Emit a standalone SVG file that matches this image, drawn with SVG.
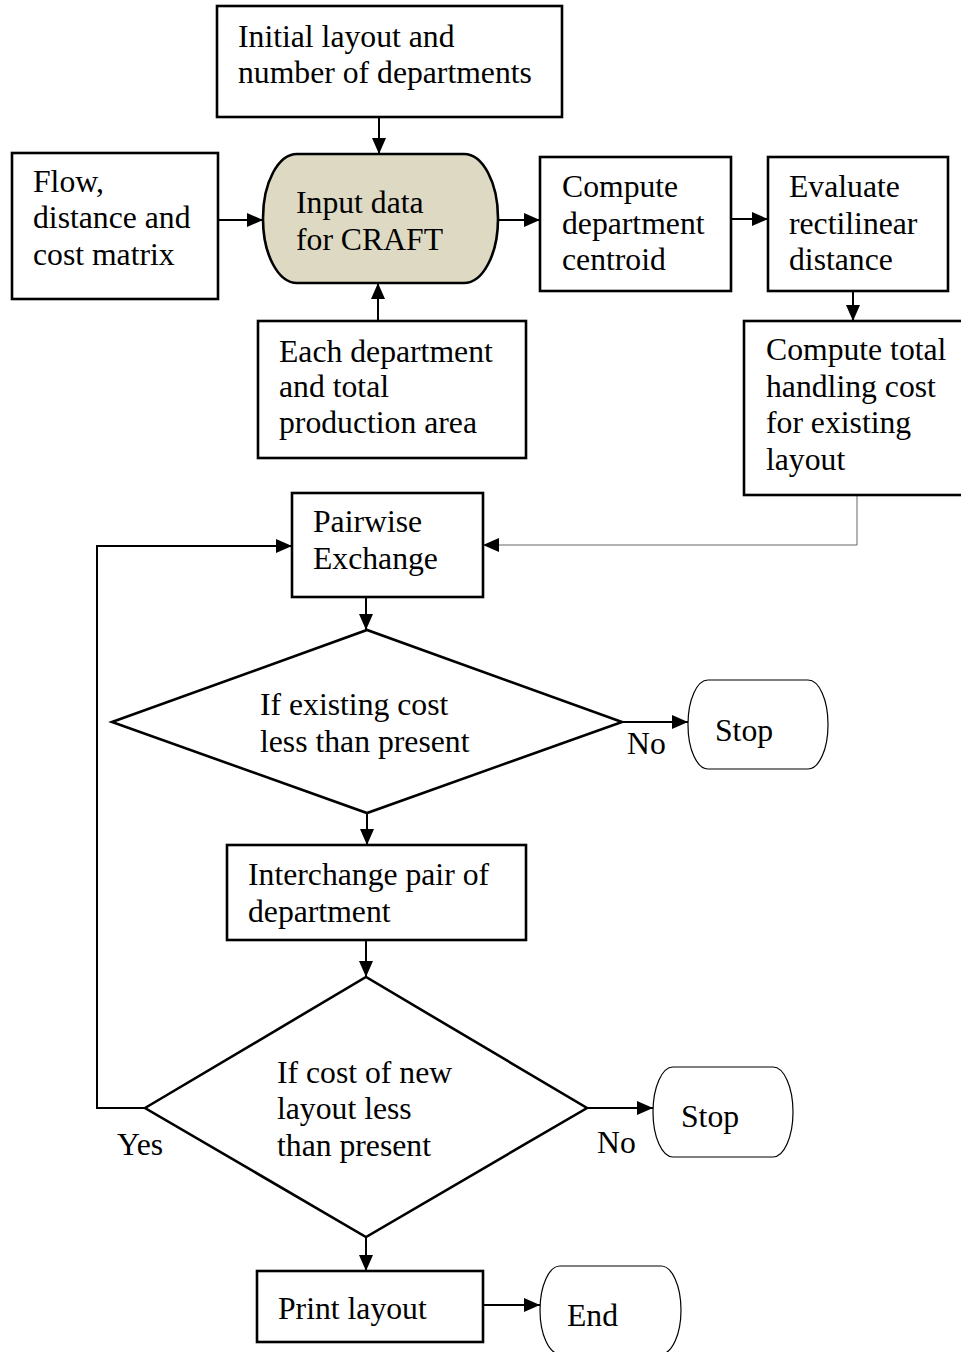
<svg xmlns="http://www.w3.org/2000/svg" width="961" height="1352" viewBox="0 0 961 1352">
  <defs>
    <style>
      .box { fill: #ffffff; stroke: #000000; stroke-width: 2.6; }
      .craft { fill: #ddd9c3; stroke: #000000; stroke-width: 2.6; }
      .term { fill: #ffffff; stroke: #000000; stroke-width: 1.2; }
      .lbl { font-family: "Liberation Serif", "Times New Roman", serif; font-size: 31.7px; fill: #000000; }
      .conn { fill: none; stroke: #000000; stroke-width: 2; }
      .thin { fill: none; stroke: #666666; stroke-width: 1; }
    </style>
    <marker id="arrow" viewBox="0 0 16 14" refX="16" refY="7" markerWidth="16" markerHeight="14" markerUnits="userSpaceOnUse" orient="auto">
      <path d="M0,0 L16,7 L0,14 z" fill="#000000"/>
    </marker>
  </defs>

  <!-- connectors -->
  <g id="connectors">
    <line class="conn" x1="379" y1="117" x2="379" y2="154" marker-end="url(#arrow)"/>
    <line class="conn" x1="218" y1="220" x2="263" y2="220" marker-end="url(#arrow)"/>
    <line class="conn" x1="378" y1="320" x2="378" y2="283" marker-end="url(#arrow)"/>
    <line class="conn" x1="498" y1="220" x2="540" y2="220" marker-end="url(#arrow)"/>
    <line class="conn" x1="731" y1="219" x2="768" y2="219" marker-end="url(#arrow)"/>
    <line class="conn" x1="853" y1="291" x2="853" y2="321" marker-end="url(#arrow)"/>
    <polyline class="thin" points="857,495 857,545 483,545" marker-end="url(#arrow)"/>
    <line class="conn" x1="366" y1="597" x2="366" y2="630" marker-end="url(#arrow)"/>
    <line class="conn" x1="622" y1="722" x2="688" y2="722" marker-end="url(#arrow)"/>
    <line class="conn" x1="367" y1="813" x2="367" y2="845" marker-end="url(#arrow)"/>
    <line class="conn" x1="366" y1="940" x2="366" y2="977" marker-end="url(#arrow)"/>
    <polyline class="conn" points="145,1108 97,1108 97,546 292,546" marker-end="url(#arrow)"/>
    <line class="conn" x1="587" y1="1108" x2="653" y2="1108" marker-end="url(#arrow)"/>
    <line class="conn" x1="366" y1="1237" x2="366" y2="1271" marker-end="url(#arrow)"/>
    <line class="conn" x1="483" y1="1305" x2="540" y2="1305" marker-end="url(#arrow)"/>
  </g>

  <!-- nodes -->
  <g id="n-initial">
    <rect class="box" x="217" y="6" width="345" height="111"/>
    <text class="lbl" x="238" y="47">Initial layout and</text>
    <text class="lbl" x="238" y="83">number of departments</text>
  </g>

  <g id="n-flow">
    <rect class="box" x="12" y="153" width="206" height="146"/>
    <text class="lbl" x="33" y="192">Flow,</text>
    <text class="lbl" x="33" y="228">distance and</text>
    <text class="lbl" x="33" y="265">cost matrix</text>
  </g>

  <g id="n-craft">
    <rect class="craft" x="263" y="154" width="235" height="129" rx="34" ry="64"/>
    <text class="lbl" x="296" y="213">Input data</text>
    <text class="lbl" x="296" y="250">for CRAFT</text>
  </g>

  <g id="n-centroid">
    <rect class="box" x="540" y="157" width="191" height="134"/>
    <text class="lbl" x="562" y="197">Compute</text>
    <text class="lbl" x="562" y="234">department</text>
    <text class="lbl" x="562" y="270">centroid</text>
  </g>

  <g id="n-distance">
    <rect class="box" x="768" y="157" width="180" height="134"/>
    <text class="lbl" x="789" y="197">Evaluate</text>
    <text class="lbl" x="789" y="234">rectilinear</text>
    <text class="lbl" x="789" y="270">distance</text>
  </g>

  <g id="n-total-cost">
    <rect class="box" x="744" y="321" width="235" height="174"/>
    <text class="lbl" x="766" y="360">Compute total</text>
    <text class="lbl" x="766" y="397">handling cost</text>
    <text class="lbl" x="766" y="433">for existing</text>
    <text class="lbl" x="766" y="470">layout</text>
  </g>

  <g id="n-area">
    <rect class="box" x="258" y="321" width="268" height="137"/>
    <text class="lbl" x="279" y="362">Each department</text>
    <text class="lbl" x="279" y="397">and total</text>
    <text class="lbl" x="279" y="433">production area</text>
  </g>

  <g id="n-pairwise">
    <rect class="box" x="292" y="493" width="191" height="104"/>
    <text class="lbl" x="313" y="532">Pairwise</text>
    <text class="lbl" x="313" y="569">Exchange</text>
  </g>

  <g id="n-check-existing">
    <polygon class="box" points="112,722 367,630 622,722 367,813"/>
    <text class="lbl" x="260" y="715">If existing cost</text>
    <text class="lbl" x="260" y="752">less than present</text>
  </g>

  <g id="n-stop-1">
    <rect class="term" x="688" y="680" width="140" height="89" rx="20" ry="44"/>
    <text class="lbl" x="715" y="741">Stop</text>
  </g>

  <g id="n-interchange">
    <rect class="box" x="227" y="845" width="299" height="95"/>
    <text class="lbl" x="248" y="885">Interchange pair of</text>
    <text class="lbl" x="248" y="922">department</text>
  </g>

  <g id="n-check-new">
    <polygon class="box" points="145,1108 366,977 587,1108 366,1237"/>
    <text class="lbl" x="277" y="1083">If cost of new</text>
    <text class="lbl" x="277" y="1119">layout less</text>
    <text class="lbl" x="277" y="1156">than present</text>
  </g>

  <g id="n-stop-2">
    <rect class="term" x="653" y="1067" width="140" height="90" rx="20" ry="45"/>
    <text class="lbl" x="681" y="1127">Stop</text>
  </g>

  <g id="n-print">
    <rect class="box" x="257" y="1271" width="226" height="71"/>
    <text class="lbl" x="278" y="1319">Print layout</text>
  </g>

  <g id="n-end">
    <rect class="term" x="540" y="1266" width="141" height="88" rx="20" ry="44"/>
    <text class="lbl" x="567" y="1326">End</text>
  </g>

  <!-- branch labels -->
  <g id="branch-labels">
    <text class="lbl" x="627" y="754">No</text>
    <text class="lbl" x="597" y="1153">No</text>
    <text class="lbl" x="117" y="1155">Yes</text>
  </g>
</svg>
